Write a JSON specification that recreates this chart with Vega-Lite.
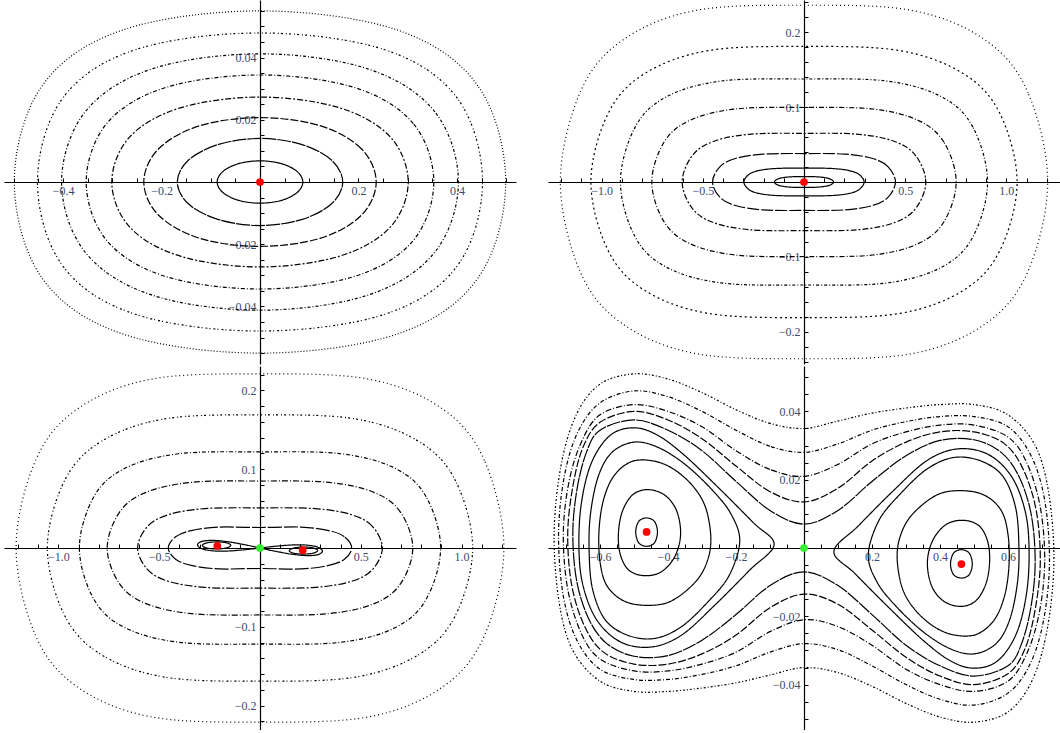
{
"$schema": "https://vega.github.io/schema/vega-lite/v6.json",
"padding": {"left": 4, "top": 0, "right": 0, "bottom": 0},
"config": {"view": {"stroke": null}, "axis": {"grid": false, "title": null, "domainColor": "black", "domainWidth": 1.2, "tickColor": "black", "tickWidth": 1, "labelFont": "Liberation Serif", "labelFontSize": 12, "labelColor": "#3c4a6b", "labelFlush": false, "labelOverlap": false}},
"spacing": 2,
"resolve": {"scale": {"strokeDash": "independent"}},
"vconcat": [
{"hconcat": [
{"width": 512, "height": 364,
"data": {"values": [
{"c":1,"i":0,"x":0.087,"y":0},{"c":1,"i":1,"x":0.0753,"y":0.0034},{"c":1,"i":2,"x":0.0435,"y":0.0059},{"c":1,"i":3,"x":0,"y":0.0068},{"c":1,"i":4,"x":-0.0435,"y":0.0059},{"c":1,"i":5,"x":-0.0753,"y":0.0034},{"c":1,"i":6,"x":-0.087,"y":0},{"c":1,"i":7,"x":-0.0753,"y":-0.0034},{"c":1,"i":8,"x":-0.0435,"y":-0.0059},{"c":1,"i":9,"x":0,"y":-0.0068},{"c":1,"i":10,"x":0.0435,"y":-0.0059},{"c":1,"i":11,"x":0.0753,"y":-0.0034},
{"c":2,"i":0,"x":0.168,"y":0},{"c":2,"i":1,"x":0.1455,"y":0.007},{"c":2,"i":2,"x":0.084,"y":0.0121},{"c":2,"i":3,"x":0,"y":0.014},{"c":2,"i":4,"x":-0.084,"y":0.0121},{"c":2,"i":5,"x":-0.1455,"y":0.007},{"c":2,"i":6,"x":-0.168,"y":0},{"c":2,"i":7,"x":-0.1455,"y":-0.007},{"c":2,"i":8,"x":-0.084,"y":-0.0121},{"c":2,"i":9,"x":0,"y":-0.014},{"c":2,"i":10,"x":0.084,"y":-0.0121},{"c":2,"i":11,"x":0.1455,"y":-0.007},
{"c":3,"i":0,"x":0.236,"y":0},{"c":3,"i":1,"x":0.2058,"y":0.0107},{"c":3,"i":2,"x":0.122,"y":0.0181},{"c":3,"i":3,"x":0,"y":0.0207},{"c":3,"i":4,"x":-0.122,"y":0.0181},{"c":3,"i":5,"x":-0.2058,"y":0.0107},{"c":3,"i":6,"x":-0.236,"y":0},{"c":3,"i":7,"x":-0.2058,"y":-0.0107},{"c":3,"i":8,"x":-0.122,"y":-0.0181},{"c":3,"i":9,"x":0,"y":-0.0207},{"c":3,"i":10,"x":0.122,"y":-0.0181},{"c":3,"i":11,"x":0.2058,"y":-0.0107},
{"c":4,"i":0,"x":0.301,"y":0},{"c":4,"i":1,"x":0.264,"y":0.0146},{"c":4,"i":2,"x":0.1604,"y":0.0239},{"c":4,"i":3,"x":0,"y":0.0273},{"c":4,"i":4,"x":-0.1604,"y":0.0239},{"c":4,"i":5,"x":-0.264,"y":0.0146},{"c":4,"i":6,"x":-0.301,"y":0},{"c":4,"i":7,"x":-0.264,"y":-0.0146},{"c":4,"i":8,"x":-0.1604,"y":-0.0239},{"c":4,"i":9,"x":0,"y":-0.0273},{"c":4,"i":10,"x":0.1604,"y":-0.0239},{"c":4,"i":11,"x":0.264,"y":-0.0146},
{"c":5,"i":0,"x":0.353,"y":0},{"c":5,"i":1,"x":0.3113,"y":0.0188},{"c":5,"i":2,"x":0.1931,"y":0.0303},{"c":5,"i":3,"x":0,"y":0.0344},{"c":5,"i":4,"x":-0.1931,"y":0.0303},{"c":5,"i":5,"x":-0.3113,"y":0.0188},{"c":5,"i":6,"x":-0.353,"y":0},{"c":5,"i":7,"x":-0.3113,"y":-0.0188},{"c":5,"i":8,"x":-0.1931,"y":-0.0303},{"c":5,"i":9,"x":0,"y":-0.0344},{"c":5,"i":10,"x":0.1931,"y":-0.0303},{"c":5,"i":11,"x":0.3113,"y":-0.0188},
{"c":6,"i":0,"x":0.403,"y":0},{"c":6,"i":1,"x":0.3554,"y":0.0225},{"c":6,"i":2,"x":0.2204,"y":0.0363},{"c":6,"i":3,"x":0,"y":0.0412},{"c":6,"i":4,"x":-0.2204,"y":0.0363},{"c":6,"i":5,"x":-0.3554,"y":0.0225},{"c":6,"i":6,"x":-0.403,"y":0},{"c":6,"i":7,"x":-0.3554,"y":-0.0225},{"c":6,"i":8,"x":-0.2204,"y":-0.0363},{"c":6,"i":9,"x":0,"y":-0.0412},{"c":6,"i":10,"x":0.2204,"y":-0.0363},{"c":6,"i":11,"x":0.3554,"y":-0.0225},
{"c":7,"i":0,"x":0.452,"y":0},{"c":7,"i":1,"x":0.4009,"y":0.0269},{"c":7,"i":2,"x":0.2536,"y":0.0425},{"c":7,"i":3,"x":0,"y":0.0479},{"c":7,"i":4,"x":-0.2536,"y":0.0425},{"c":7,"i":5,"x":-0.4009,"y":0.0269},{"c":7,"i":6,"x":-0.452,"y":0},{"c":7,"i":7,"x":-0.4009,"y":-0.0269},{"c":7,"i":8,"x":-0.2536,"y":-0.0425},{"c":7,"i":9,"x":0,"y":-0.0479},{"c":7,"i":10,"x":0.2536,"y":-0.0425},{"c":7,"i":11,"x":0.4009,"y":-0.0269},
{"c":8,"i":0,"x":0.499,"y":0},{"c":8,"i":1,"x":0.4426,"y":0.0309},{"c":8,"i":2,"x":0.2799,"y":0.0488},{"c":8,"i":3,"x":0,"y":0.055},{"c":8,"i":4,"x":-0.2799,"y":0.0488},{"c":8,"i":5,"x":-0.4426,"y":0.0309},{"c":8,"i":6,"x":-0.499,"y":0},{"c":8,"i":7,"x":-0.4426,"y":-0.0309},{"c":8,"i":8,"x":-0.2799,"y":-0.0488},{"c":8,"i":9,"x":0,"y":-0.055},{"c":8,"i":10,"x":0.2799,"y":-0.0488},{"c":8,"i":11,"x":0.4426,"y":-0.0309}
]},
"layer": [
{"mark": {"type": "line", "interpolate": "cardinal-closed", "strokeWidth": 1.2, "color": "black"},
 "encoding": {
  "x": {"field": "x", "type": "quantitative", "scale": {"domain": [-0.52, 0.52], "nice": false, "zero": false}, "axis": {"orient": "bottom", "offset": -182, "values": [-0.4, -0.2, 0.2, 0.4], "format": ".1f", "ticks": false, "labelPadding": 3}},
  "y": {"field": "y", "type": "quantitative", "scale": {"domain": [-0.0585, 0.0585], "nice": false, "zero": false}, "axis": {"orient": "left", "offset": -256, "values": [-0.04, -0.02, 0.02, 0.04], "format": ".2f", "ticks": false, "labelPadding": 4}},
  "order": {"field": "i", "type": "quantitative"},
  "strokeDash": {"field": "c", "type": "ordinal", "scale": {"domain": [1,2,3,4,5,6,7,8], "range": [[1,0],[14,1],[8,2],[6,2,2,2],[4,2,1,2],[3,2,1,2],[2,2,1,3],[1,2]]}, "legend": null}
 }},
{"data": {"values": [{"x": 0, "y": 0, "k": "center"}]},
 "mark": {"type": "point", "filled": true, "size": 60, "opacity": 1},
 "encoding": {
  "x": {"field": "x", "type": "quantitative", "axis": {"orient": "top", "offset": -182, "values": [-0.5,-0.45,-0.4,-0.35,-0.3,-0.25,-0.2,-0.15,-0.1,-0.05,0.05,0.1,0.15,0.2,0.25,0.3,0.35,0.4,0.45,0.5], "labels": false, "domain": false, "tickSize": 4}},
  "y": {"field": "y", "type": "quantitative", "axis": {"orient": "right", "offset": -256, "values": [-0.055,-0.05,-0.045,-0.04,-0.035,-0.03,-0.025,-0.02,-0.015,-0.01,-0.005,0.005,0.01,0.015,0.02,0.025,0.03,0.035,0.04,0.045,0.05,0.055], "labels": false, "domain": false, "tickSize": 4}},
  "color": {"field": "k", "type": "nominal", "scale": {"domain": ["center", "saddle"], "range": ["#ff0000", "#33ee33"]}, "legend": null}
 }}
],
"resolve": {"axis": {"x": "independent", "y": "independent"}}
},
{"width": 512, "height": 364,
"data": {"values": [
{"c":1,"i":0,"x":0.146,"y":0},{"c":1,"i":1,"x":0.1343,"y":0.0034},{"c":1,"i":2,"x":0.1095,"y":0.0055},{"c":1,"i":3,"x":0.0657,"y":0.0069},{"c":1,"i":4,"x":0,"y":0.0072},{"c":1,"i":5,"x":-0.0657,"y":0.0069},{"c":1,"i":6,"x":-0.1095,"y":0.0055},{"c":1,"i":7,"x":-0.1343,"y":0.0034},{"c":1,"i":8,"x":-0.146,"y":0},{"c":1,"i":9,"x":-0.1343,"y":-0.0034},{"c":1,"i":10,"x":-0.1095,"y":-0.0055},{"c":1,"i":11,"x":-0.0657,"y":-0.0069},{"c":1,"i":12,"x":0,"y":-0.0072},{"c":1,"i":13,"x":0.0657,"y":-0.0069},{"c":1,"i":14,"x":0.1095,"y":-0.0055},{"c":1,"i":15,"x":0.1343,"y":-0.0034},
{"c":2,"i":0,"x":0.297,"y":0},{"c":2,"i":1,"x":0.2732,"y":0.0099},{"c":2,"i":2,"x":0.2228,"y":0.0153},{"c":2,"i":3,"x":0.1337,"y":0.0181},{"c":2,"i":4,"x":0,"y":0.0185},{"c":2,"i":5,"x":-0.1337,"y":0.0181},{"c":2,"i":6,"x":-0.2228,"y":0.0153},{"c":2,"i":7,"x":-0.2732,"y":0.0099},{"c":2,"i":8,"x":-0.297,"y":0},{"c":2,"i":9,"x":-0.2732,"y":-0.0099},{"c":2,"i":10,"x":-0.2228,"y":-0.0153},{"c":2,"i":11,"x":-0.1337,"y":-0.0181},{"c":2,"i":12,"x":0,"y":-0.0185},{"c":2,"i":13,"x":0.1337,"y":-0.0181},{"c":2,"i":14,"x":0.2228,"y":-0.0153},{"c":2,"i":15,"x":0.2732,"y":-0.0099},
{"c":3,"i":0,"x":0.452,"y":0},{"c":3,"i":1,"x":0.4158,"y":0.0203},{"c":3,"i":2,"x":0.339,"y":0.0314},{"c":3,"i":3,"x":0.2034,"y":0.0372},{"c":3,"i":4,"x":0,"y":0.038},{"c":3,"i":5,"x":-0.2034,"y":0.0372},{"c":3,"i":6,"x":-0.339,"y":0.0314},{"c":3,"i":7,"x":-0.4158,"y":0.0203},{"c":3,"i":8,"x":-0.452,"y":0},{"c":3,"i":9,"x":-0.4158,"y":-0.0203},{"c":3,"i":10,"x":-0.339,"y":-0.0314},{"c":3,"i":11,"x":-0.2034,"y":-0.0372},{"c":3,"i":12,"x":0,"y":-0.038},{"c":3,"i":13,"x":0.2034,"y":-0.0372},{"c":3,"i":14,"x":0.339,"y":-0.0314},{"c":3,"i":15,"x":0.4158,"y":-0.0203},
{"c":4,"i":0,"x":0.602,"y":0},{"c":4,"i":1,"x":0.5538,"y":0.0346},{"c":4,"i":2,"x":0.4515,"y":0.0538},{"c":4,"i":3,"x":0.2709,"y":0.0637},{"c":4,"i":4,"x":0,"y":0.065},{"c":4,"i":5,"x":-0.2709,"y":0.0637},{"c":4,"i":6,"x":-0.4515,"y":0.0538},{"c":4,"i":7,"x":-0.5538,"y":0.0346},{"c":4,"i":8,"x":-0.602,"y":0},{"c":4,"i":9,"x":-0.5538,"y":-0.0346},{"c":4,"i":10,"x":-0.4515,"y":-0.0538},{"c":4,"i":11,"x":-0.2709,"y":-0.0637},{"c":4,"i":12,"x":0,"y":-0.065},{"c":4,"i":13,"x":0.2709,"y":-0.0637},{"c":4,"i":14,"x":0.4515,"y":-0.0538},{"c":4,"i":15,"x":0.5538,"y":-0.0346},
{"c":5,"i":0,"x":0.752,"y":0},{"c":5,"i":1,"x":0.6918,"y":0.053},{"c":5,"i":2,"x":0.564,"y":0.0823},{"c":5,"i":3,"x":0.3384,"y":0.0975},{"c":5,"i":4,"x":0,"y":0.0995},{"c":5,"i":5,"x":-0.3384,"y":0.0975},{"c":5,"i":6,"x":-0.564,"y":0.0823},{"c":5,"i":7,"x":-0.6918,"y":0.053},{"c":5,"i":8,"x":-0.752,"y":0},{"c":5,"i":9,"x":-0.6918,"y":-0.053},{"c":5,"i":10,"x":-0.564,"y":-0.0823},{"c":5,"i":11,"x":-0.3384,"y":-0.0975},{"c":5,"i":12,"x":0,"y":-0.0995},{"c":5,"i":13,"x":0.3384,"y":-0.0975},{"c":5,"i":14,"x":0.564,"y":-0.0823},{"c":5,"i":15,"x":0.6918,"y":-0.053},
{"c":6,"i":0,"x":0.907,"y":0},{"c":6,"i":1,"x":0.8344,"y":0.0733},{"c":6,"i":2,"x":0.6803,"y":0.1137},{"c":6,"i":3,"x":0.4082,"y":0.1348},{"c":6,"i":4,"x":0,"y":0.1375},{"c":6,"i":5,"x":-0.4082,"y":0.1348},{"c":6,"i":6,"x":-0.6803,"y":0.1137},{"c":6,"i":7,"x":-0.8344,"y":0.0733},{"c":6,"i":8,"x":-0.907,"y":0},{"c":6,"i":9,"x":-0.8344,"y":-0.0733},{"c":6,"i":10,"x":-0.6803,"y":-0.1137},{"c":6,"i":11,"x":-0.4082,"y":-0.1348},{"c":6,"i":12,"x":0,"y":-0.1375},{"c":6,"i":13,"x":0.4082,"y":-0.1348},{"c":6,"i":14,"x":0.6803,"y":-0.1137},{"c":6,"i":15,"x":0.8344,"y":-0.0733},
{"c":7,"i":0,"x":1.053,"y":0},{"c":7,"i":1,"x":0.9688,"y":0.091},{"c":7,"i":2,"x":0.7898,"y":0.1443},{"c":7,"i":3,"x":0.4739,"y":0.1754},{"c":7,"i":4,"x":0,"y":0.181},{"c":7,"i":5,"x":-0.4739,"y":0.1754},{"c":7,"i":6,"x":-0.7898,"y":0.1443},{"c":7,"i":7,"x":-0.9688,"y":0.091},{"c":7,"i":8,"x":-1.053,"y":0},{"c":7,"i":9,"x":-0.9688,"y":-0.091},{"c":7,"i":10,"x":-0.7898,"y":-0.1443},{"c":7,"i":11,"x":-0.4739,"y":-0.1754},{"c":7,"i":12,"x":0,"y":-0.181},{"c":7,"i":13,"x":0.4739,"y":-0.1754},{"c":7,"i":14,"x":0.7898,"y":-0.1443},{"c":7,"i":15,"x":0.9688,"y":-0.091},
{"c":8,"i":0,"x":1.204,"y":0},{"c":8,"i":1,"x":1.1077,"y":0.1187},{"c":8,"i":2,"x":0.903,"y":0.1881},{"c":8,"i":3,"x":0.5418,"y":0.2287},{"c":8,"i":4,"x":0,"y":0.236},{"c":8,"i":5,"x":-0.5418,"y":0.2287},{"c":8,"i":6,"x":-0.903,"y":0.1881},{"c":8,"i":7,"x":-1.1077,"y":0.1187},{"c":8,"i":8,"x":-1.204,"y":0},{"c":8,"i":9,"x":-1.1077,"y":-0.1187},{"c":8,"i":10,"x":-0.903,"y":-0.1881},{"c":8,"i":11,"x":-0.5418,"y":-0.2287},{"c":8,"i":12,"x":0,"y":-0.236},{"c":8,"i":13,"x":0.5418,"y":-0.2287},{"c":8,"i":14,"x":0.903,"y":-0.1881},{"c":8,"i":15,"x":1.1077,"y":-0.1187}
]},
"layer": [
{"mark": {"type": "line", "interpolate": "cardinal-closed", "strokeWidth": 1.2, "color": "black"},
 "encoding": {
  "x": {"field": "x", "type": "quantitative", "scale": {"domain": [-1.265, 1.265], "nice": false, "zero": false}, "axis": {"orient": "bottom", "offset": -182, "values": [-1, -0.5, 0.5, 1], "format": ".1f", "ticks": false, "labelPadding": 3}},
  "y": {"field": "y", "type": "quantitative", "scale": {"domain": [-0.243, 0.243], "nice": false, "zero": false}, "axis": {"orient": "left", "offset": -256, "values": [-0.2, -0.1, 0.1, 0.2], "format": ".1f", "ticks": false, "labelPadding": 4}},
  "order": {"field": "i", "type": "quantitative"},
  "strokeDash": {"field": "c", "type": "ordinal", "scale": {"domain": [1,2,3,4,5,6,7,8], "range": [[1,0],[1,0],[12,2],[6,2,2,2],[5,2,1,2],[3,2,1,2],[2,3],[1,3]]}, "legend": null}
 }},
{"data": {"values": [{"x": 0, "y": 0, "k": "center"}]},
 "mark": {"type": "point", "filled": true, "size": 60, "opacity": 1},
 "encoding": {
  "x": {"field": "x", "type": "quantitative", "axis": {"orient": "top", "offset": -182, "values": [-1.2,-1.1,-1,-0.9,-0.8,-0.7,-0.6,-0.5,-0.4,-0.3,-0.2,-0.1,0.1,0.2,0.3,0.4,0.5,0.6,0.7,0.8,0.9,1,1.1,1.2], "labels": false, "domain": false, "tickSize": 4}},
  "y": {"field": "y", "type": "quantitative", "axis": {"orient": "right", "offset": -256, "values": [-0.24,-0.22,-0.2,-0.18,-0.16,-0.14,-0.12,-0.1,-0.08,-0.06,-0.04,-0.02,0.02,0.04,0.06,0.08,0.1,0.12,0.14,0.16,0.18,0.2,0.22,0.24], "labels": false, "domain": false, "tickSize": 4}},
  "color": {"field": "k", "type": "nominal", "scale": {"domain": ["center", "saddle"], "range": ["#ff0000", "#33ee33"]}, "legend": null}
 }}
],
"resolve": {"axis": {"x": "independent", "y": "independent"}}
}
], "spacing": 32, "resolve": {"scale": {"strokeDash": "independent"}}},
{"hconcat": [
{"width": 512, "height": 364,
"data": {"values": [
{"c":1,"i":0,"x":0,"y":0},{"c":1,"i":1,"x":-0.0465,"y":0.0026},{"c":1,"i":2,"x":-0.093,"y":0.005},{"c":1,"i":3,"x":-0.155,"y":0.0078},{"c":1,"i":4,"x":-0.217,"y":0.0095},{"c":1,"i":5,"x":-0.2635,"y":0.0094},{"c":1,"i":6,"x":-0.2945,"y":0.0078},{"c":1,"i":7,"x":-0.31,"y":0.004},{"c":1,"i":8,"x":-0.2945,"y":-0.0002},{"c":1,"i":9,"x":-0.2635,"y":-0.0026},{"c":1,"i":10,"x":-0.217,"y":-0.0039},{"c":1,"i":11,"x":-0.155,"y":-0.0038},{"c":1,"i":12,"x":-0.093,"y":-0.0026},{"c":1,"i":13,"x":-0.0465,"y":-0.0014},{"c":1,"i":14,"x":0,"y":0},{"c":1,"i":15,"x":0.0465,"y":0.0014},{"c":1,"i":16,"x":0.093,"y":0.0026},{"c":1,"i":17,"x":0.155,"y":0.0038},{"c":1,"i":18,"x":0.217,"y":0.0039},{"c":1,"i":19,"x":0.2635,"y":0.0026},{"c":1,"i":20,"x":0.2945,"y":0.0002},{"c":1,"i":21,"x":0.31,"y":-0.004},{"c":1,"i":22,"x":0.2945,"y":-0.0078},{"c":1,"i":23,"x":0.2635,"y":-0.0094},{"c":1,"i":24,"x":0.217,"y":-0.0095},{"c":1,"i":25,"x":0.155,"y":-0.0078},{"c":1,"i":26,"x":0.093,"y":-0.005},{"c":1,"i":27,"x":0.0465,"y":-0.0026},
{"c":2,"i":0,"x":-0.145,"y":0.0035},{"c":2,"i":1,"x":-0.165,"y":0.0065},{"c":2,"i":2,"x":-0.21,"y":0.0077},{"c":2,"i":3,"x":-0.26,"y":0.0068},{"c":2,"i":4,"x":-0.286,"y":0.0035},{"c":2,"i":5,"x":-0.265,"y":0},{"c":2,"i":6,"x":-0.215,"y":-0.0013},{"c":2,"i":7,"x":-0.165,"y":0.0002},
{"c":3,"i":0,"x":0.145,"y":-0.0035},{"c":3,"i":1,"x":0.165,"y":-0.0065},{"c":3,"i":2,"x":0.21,"y":-0.0077},{"c":3,"i":3,"x":0.26,"y":-0.0068},{"c":3,"i":4,"x":0.286,"y":-0.0035},{"c":3,"i":5,"x":0.265,"y":0},{"c":3,"i":6,"x":0.215,"y":0.0013},{"c":3,"i":7,"x":0.165,"y":-0.0002},
{"c":4,"i":0,"x":0.455,"y":0},{"c":4,"i":1,"x":0.4186,"y":0.0143},{"c":4,"i":2,"x":0.3413,"y":0.0221},{"c":4,"i":3,"x":0.2048,"y":0.0265},{"c":4,"i":4,"x":0,"y":0.026},{"c":4,"i":5,"x":-0.2048,"y":0.0265},{"c":4,"i":6,"x":-0.3413,"y":0.0221},{"c":4,"i":7,"x":-0.4186,"y":0.0143},{"c":4,"i":8,"x":-0.455,"y":0},{"c":4,"i":9,"x":-0.4186,"y":-0.0143},{"c":4,"i":10,"x":-0.3413,"y":-0.0221},{"c":4,"i":11,"x":-0.2048,"y":-0.0265},{"c":4,"i":12,"x":0,"y":-0.026},{"c":4,"i":13,"x":0.2048,"y":-0.0265},{"c":4,"i":14,"x":0.3413,"y":-0.0221},{"c":4,"i":15,"x":0.4186,"y":-0.0143},
{"c":5,"i":0,"x":0.607,"y":0},{"c":5,"i":1,"x":0.5584,"y":0.0272},{"c":5,"i":2,"x":0.4553,"y":0.0422},{"c":5,"i":3,"x":0.2732,"y":0.05},{"c":5,"i":4,"x":0,"y":0.051},{"c":5,"i":5,"x":-0.2732,"y":0.05},{"c":5,"i":6,"x":-0.4553,"y":0.0422},{"c":5,"i":7,"x":-0.5584,"y":0.0272},{"c":5,"i":8,"x":-0.607,"y":0},{"c":5,"i":9,"x":-0.5584,"y":-0.0272},{"c":5,"i":10,"x":-0.4553,"y":-0.0422},{"c":5,"i":11,"x":-0.2732,"y":-0.05},{"c":5,"i":12,"x":0,"y":-0.051},{"c":5,"i":13,"x":0.2732,"y":-0.05},{"c":5,"i":14,"x":0.4553,"y":-0.0422},{"c":5,"i":15,"x":0.5584,"y":-0.0272},
{"c":6,"i":0,"x":0.758,"y":0},{"c":6,"i":1,"x":0.6974,"y":0.0453},{"c":6,"i":2,"x":0.5685,"y":0.0703},{"c":6,"i":3,"x":0.3411,"y":0.0833},{"c":6,"i":4,"x":0,"y":0.085},{"c":6,"i":5,"x":-0.3411,"y":0.0833},{"c":6,"i":6,"x":-0.5685,"y":0.0703},{"c":6,"i":7,"x":-0.6974,"y":0.0453},{"c":6,"i":8,"x":-0.758,"y":0},{"c":6,"i":9,"x":-0.6974,"y":-0.0453},{"c":6,"i":10,"x":-0.5685,"y":-0.0703},{"c":6,"i":11,"x":-0.3411,"y":-0.0833},{"c":6,"i":12,"x":0,"y":-0.085},{"c":6,"i":13,"x":0.3411,"y":-0.0833},{"c":6,"i":14,"x":0.5685,"y":-0.0703},{"c":6,"i":15,"x":0.6974,"y":-0.0453},
{"c":7,"i":0,"x":0.896,"y":0},{"c":7,"i":1,"x":0.8243,"y":0.065},{"c":7,"i":2,"x":0.672,"y":0.1009},{"c":7,"i":3,"x":0.4032,"y":0.1196},{"c":7,"i":4,"x":0,"y":0.122},{"c":7,"i":5,"x":-0.4032,"y":0.1196},{"c":7,"i":6,"x":-0.672,"y":0.1009},{"c":7,"i":7,"x":-0.8243,"y":0.065},{"c":7,"i":8,"x":-0.896,"y":0},{"c":7,"i":9,"x":-0.8243,"y":-0.065},{"c":7,"i":10,"x":-0.672,"y":-0.1009},{"c":7,"i":11,"x":-0.4032,"y":-0.1196},{"c":7,"i":12,"x":0,"y":-0.122},{"c":7,"i":13,"x":0.4032,"y":-0.1196},{"c":7,"i":14,"x":0.672,"y":-0.1009},{"c":7,"i":15,"x":0.8243,"y":-0.065},
{"c":8,"i":0,"x":1.055,"y":0},{"c":8,"i":1,"x":0.9706,"y":0.085},{"c":8,"i":2,"x":0.7913,"y":0.1347},{"c":8,"i":3,"x":0.4748,"y":0.1638},{"c":8,"i":4,"x":0,"y":0.169},{"c":8,"i":5,"x":-0.4748,"y":0.1638},{"c":8,"i":6,"x":-0.7913,"y":0.1347},{"c":8,"i":7,"x":-0.9706,"y":0.085},{"c":8,"i":8,"x":-1.055,"y":0},{"c":8,"i":9,"x":-0.9706,"y":-0.085},{"c":8,"i":10,"x":-0.7913,"y":-0.1347},{"c":8,"i":11,"x":-0.4748,"y":-0.1638},{"c":8,"i":12,"x":0,"y":-0.169},{"c":8,"i":13,"x":0.4748,"y":-0.1638},{"c":8,"i":14,"x":0.7913,"y":-0.1347},{"c":8,"i":15,"x":0.9706,"y":-0.085},
{"c":9,"i":0,"x":1.21,"y":0},{"c":9,"i":1,"x":1.1132,"y":0.1112},{"c":9,"i":2,"x":0.9075,"y":0.1761},{"c":9,"i":3,"x":0.5445,"y":0.2141},{"c":9,"i":4,"x":0,"y":0.221},{"c":9,"i":5,"x":-0.5445,"y":0.2141},{"c":9,"i":6,"x":-0.9075,"y":0.1761},{"c":9,"i":7,"x":-1.1132,"y":0.1112},{"c":9,"i":8,"x":-1.21,"y":0},{"c":9,"i":9,"x":-1.1132,"y":-0.1112},{"c":9,"i":10,"x":-0.9075,"y":-0.1761},{"c":9,"i":11,"x":-0.5445,"y":-0.2141},{"c":9,"i":12,"x":0,"y":-0.221},{"c":9,"i":13,"x":0.5445,"y":-0.2141},{"c":9,"i":14,"x":0.9075,"y":-0.1761},{"c":9,"i":15,"x":1.1132,"y":-0.1112}
]},
"layer": [
{"mark": {"type": "line", "interpolate": "cardinal-closed", "strokeWidth": 1.2, "color": "black"},
 "encoding": {
  "x": {"field": "x", "type": "quantitative", "scale": {"domain": [-1.27, 1.27], "nice": false, "zero": false}, "axis": {"orient": "bottom", "offset": -182, "values": [-1, -0.5, 0.5, 1], "format": ".1f", "ticks": false, "labelPadding": 3}},
  "y": {"field": "y", "type": "quantitative", "scale": {"domain": [-0.231, 0.231], "nice": false, "zero": false}, "axis": {"orient": "left", "offset": -256, "values": [-0.2, -0.1, 0.1, 0.2], "format": ".1f", "ticks": false, "labelPadding": 4}},
  "order": {"field": "i", "type": "quantitative"},
  "strokeDash": {"field": "c", "type": "ordinal", "scale": {"domain": [1,2,3,4,5,6,7,8,9], "range": [[1,0],[1,0],[1,0],[14,2],[8,2,2,2],[6,2,1,2],[4,2,1,2],[2,2,1,3],[1,3]]}, "legend": null}
 }},
{"data": {"values": [{"x": -0.212, "y": 0.0028, "k": "center"}, {"x": 0.212, "y": -0.0028, "k": "center"}, {"x": 0, "y": 0, "k": "saddle"}]},
 "mark": {"type": "point", "filled": true, "size": 60, "opacity": 1},
 "encoding": {
  "x": {"field": "x", "type": "quantitative", "axis": {"orient": "top", "offset": -182, "values": [-1.2,-1.1,-1,-0.9,-0.8,-0.7,-0.6,-0.5,-0.4,-0.3,-0.2,-0.1,0.1,0.2,0.3,0.4,0.5,0.6,0.7,0.8,0.9,1,1.1,1.2], "labels": false, "domain": false, "tickSize": 4}},
  "y": {"field": "y", "type": "quantitative", "axis": {"orient": "right", "offset": -256, "values": [-0.22,-0.2,-0.18,-0.16,-0.14,-0.12,-0.1,-0.08,-0.06,-0.04,-0.02,0.02,0.04,0.06,0.08,0.1,0.12,0.14,0.16,0.18,0.2,0.22], "labels": false, "domain": false, "tickSize": 4}},
  "color": {"field": "k", "type": "nominal", "scale": {"domain": ["center", "saddle"], "range": ["#ff0000", "#33ee33"]}, "legend": null}
 }}
],
"resolve": {"axis": {"x": "independent", "y": "independent"}}
},
{"width": 512, "height": 364,
"data": {"values": [
{"c":15,"i":0,"x":0,"y":0.035},{"c":15,"i":1,"x":-0.1,"y":0.0365},{"c":15,"i":2,"x":-0.2,"y":0.0405},{"c":15,"i":3,"x":-0.3,"y":0.0455},{"c":15,"i":4,"x":-0.4,"y":0.0495},{"c":15,"i":5,"x":-0.5,"y":0.051},{"c":15,"i":6,"x":-0.6,"y":0.048},{"c":15,"i":7,"x":-0.67,"y":0.039},{"c":15,"i":8,"x":-0.715,"y":0.024},{"c":15,"i":9,"x":-0.735,"y":0.004},{"c":15,"i":10,"x":-0.72,"y":-0.016},{"c":15,"i":11,"x":-0.68,"y":-0.03},{"c":15,"i":12,"x":-0.6,"y":-0.039},{"c":15,"i":13,"x":-0.5,"y":-0.042},{"c":15,"i":14,"x":-0.4,"y":-0.042},{"c":15,"i":15,"x":-0.3,"y":-0.041},{"c":15,"i":16,"x":-0.2,"y":-0.0395},{"c":15,"i":17,"x":-0.1,"y":-0.0372},{"c":15,"i":18,"x":0,"y":-0.035},{"c":15,"i":19,"x":0.1,"y":-0.0365},{"c":15,"i":20,"x":0.2,"y":-0.0405},{"c":15,"i":21,"x":0.3,"y":-0.0455},{"c":15,"i":22,"x":0.4,"y":-0.0495},{"c":15,"i":23,"x":0.5,"y":-0.051},{"c":15,"i":24,"x":0.6,"y":-0.048},{"c":15,"i":25,"x":0.67,"y":-0.039},{"c":15,"i":26,"x":0.715,"y":-0.024},{"c":15,"i":27,"x":0.735,"y":-0.004},{"c":15,"i":28,"x":0.72,"y":0.016},{"c":15,"i":29,"x":0.68,"y":0.03},{"c":15,"i":30,"x":0.6,"y":0.039},{"c":15,"i":31,"x":0.5,"y":0.042},{"c":15,"i":32,"x":0.4,"y":0.042},{"c":15,"i":33,"x":0.3,"y":0.041},{"c":15,"i":34,"x":0.2,"y":0.0395},{"c":15,"i":35,"x":0.1,"y":0.0372},
{"c":14,"i":0,"x":0,"y":0.028},{"c":14,"i":1,"x":-0.1,"y":0.0298},{"c":14,"i":2,"x":-0.2,"y":0.0345},{"c":14,"i":3,"x":-0.3,"y":0.04},{"c":14,"i":4,"x":-0.4,"y":0.0443},{"c":14,"i":5,"x":-0.5,"y":0.046},{"c":14,"i":6,"x":-0.6,"y":0.0425},{"c":14,"i":7,"x":-0.665,"y":0.034},{"c":14,"i":8,"x":-0.705,"y":0.021},{"c":14,"i":9,"x":-0.722,"y":0.004},{"c":14,"i":10,"x":-0.708,"y":-0.014},{"c":14,"i":11,"x":-0.668,"y":-0.027},{"c":14,"i":12,"x":-0.6,"y":-0.0355},{"c":14,"i":13,"x":-0.5,"y":-0.0385},{"c":14,"i":14,"x":-0.4,"y":-0.0385},{"c":14,"i":15,"x":-0.3,"y":-0.037},{"c":14,"i":16,"x":-0.2,"y":-0.0345},{"c":14,"i":17,"x":-0.1,"y":-0.0305},{"c":14,"i":18,"x":0,"y":-0.028},{"c":14,"i":19,"x":0.1,"y":-0.0298},{"c":14,"i":20,"x":0.2,"y":-0.0345},{"c":14,"i":21,"x":0.3,"y":-0.04},{"c":14,"i":22,"x":0.4,"y":-0.0443},{"c":14,"i":23,"x":0.5,"y":-0.046},{"c":14,"i":24,"x":0.6,"y":-0.0425},{"c":14,"i":25,"x":0.665,"y":-0.034},{"c":14,"i":26,"x":0.705,"y":-0.021},{"c":14,"i":27,"x":0.722,"y":-0.004},{"c":14,"i":28,"x":0.708,"y":0.014},{"c":14,"i":29,"x":0.668,"y":0.027},{"c":14,"i":30,"x":0.6,"y":0.0355},{"c":14,"i":31,"x":0.5,"y":0.0385},{"c":14,"i":32,"x":0.4,"y":0.0385},{"c":14,"i":33,"x":0.3,"y":0.037},{"c":14,"i":34,"x":0.2,"y":0.0345},{"c":14,"i":35,"x":0.1,"y":0.0305},
{"c":13,"i":0,"x":0,"y":0.021},{"c":13,"i":1,"x":-0.1,"y":0.023},{"c":13,"i":2,"x":-0.2,"y":0.0285},{"c":13,"i":3,"x":-0.3,"y":0.0355},{"c":13,"i":4,"x":-0.4,"y":0.04},{"c":13,"i":5,"x":-0.5,"y":0.042},{"c":13,"i":6,"x":-0.6,"y":0.039},{"c":13,"i":7,"x":-0.655,"y":0.031},{"c":13,"i":8,"x":-0.692,"y":0.019},{"c":13,"i":9,"x":-0.708,"y":0.004},{"c":13,"i":10,"x":-0.695,"y":-0.012},{"c":13,"i":11,"x":-0.655,"y":-0.025},{"c":13,"i":12,"x":-0.6,"y":-0.0325},{"c":13,"i":13,"x":-0.5,"y":-0.036},{"c":13,"i":14,"x":-0.4,"y":-0.036},{"c":13,"i":15,"x":-0.3,"y":-0.034},{"c":13,"i":16,"x":-0.2,"y":-0.0305},{"c":13,"i":17,"x":-0.1,"y":-0.0245},{"c":13,"i":18,"x":0,"y":-0.021},{"c":13,"i":19,"x":0.1,"y":-0.023},{"c":13,"i":20,"x":0.2,"y":-0.0285},{"c":13,"i":21,"x":0.3,"y":-0.0355},{"c":13,"i":22,"x":0.4,"y":-0.04},{"c":13,"i":23,"x":0.5,"y":-0.042},{"c":13,"i":24,"x":0.6,"y":-0.039},{"c":13,"i":25,"x":0.655,"y":-0.031},{"c":13,"i":26,"x":0.692,"y":-0.019},{"c":13,"i":27,"x":0.708,"y":-0.004},{"c":13,"i":28,"x":0.695,"y":0.012},{"c":13,"i":29,"x":0.655,"y":0.025},{"c":13,"i":30,"x":0.6,"y":0.0325},{"c":13,"i":31,"x":0.5,"y":0.036},{"c":13,"i":32,"x":0.4,"y":0.036},{"c":13,"i":33,"x":0.3,"y":0.034},{"c":13,"i":34,"x":0.2,"y":0.0305},{"c":13,"i":35,"x":0.1,"y":0.0245},
{"c":12,"i":0,"x":0,"y":0.0135},{"c":12,"i":1,"x":-0.1,"y":0.0165},{"c":12,"i":2,"x":-0.2,"y":0.024},{"c":12,"i":3,"x":-0.3,"y":0.032},{"c":12,"i":4,"x":-0.4,"y":0.0375},{"c":12,"i":5,"x":-0.5,"y":0.04},{"c":12,"i":6,"x":-0.6,"y":0.0368},{"c":12,"i":7,"x":-0.65,"y":0.0295},{"c":12,"i":8,"x":-0.68,"y":0.018},{"c":12,"i":9,"x":-0.695,"y":0.004},{"c":12,"i":10,"x":-0.683,"y":-0.011},{"c":12,"i":11,"x":-0.645,"y":-0.023},{"c":12,"i":12,"x":-0.59,"y":-0.0305},{"c":12,"i":13,"x":-0.5,"y":-0.034},{"c":12,"i":14,"x":-0.4,"y":-0.034},{"c":12,"i":15,"x":-0.3,"y":-0.031},{"c":12,"i":16,"x":-0.2,"y":-0.0255},{"c":12,"i":17,"x":-0.1,"y":-0.0175},{"c":12,"i":18,"x":0,"y":-0.0135},{"c":12,"i":19,"x":0.1,"y":-0.0165},{"c":12,"i":20,"x":0.2,"y":-0.024},{"c":12,"i":21,"x":0.3,"y":-0.032},{"c":12,"i":22,"x":0.4,"y":-0.0375},{"c":12,"i":23,"x":0.5,"y":-0.04},{"c":12,"i":24,"x":0.6,"y":-0.0368},{"c":12,"i":25,"x":0.65,"y":-0.0295},{"c":12,"i":26,"x":0.68,"y":-0.018},{"c":12,"i":27,"x":0.695,"y":-0.004},{"c":12,"i":28,"x":0.683,"y":0.011},{"c":12,"i":29,"x":0.645,"y":0.023},{"c":12,"i":30,"x":0.59,"y":0.0305},{"c":12,"i":31,"x":0.5,"y":0.034},{"c":12,"i":32,"x":0.4,"y":0.034},{"c":12,"i":33,"x":0.3,"y":0.031},{"c":12,"i":34,"x":0.2,"y":0.0255},{"c":12,"i":35,"x":0.1,"y":0.0175},
{"c":11,"i":0,"x":0,"y":0.007},{"c":11,"i":1,"x":-0.1,"y":0.011},{"c":11,"i":2,"x":-0.2,"y":0.0195},{"c":11,"i":3,"x":-0.3,"y":0.0285},{"c":11,"i":4,"x":-0.4,"y":0.0345},{"c":11,"i":5,"x":-0.5,"y":0.0375},{"c":11,"i":6,"x":-0.6,"y":0.0345},{"c":11,"i":7,"x":-0.64,"y":0.028},{"c":11,"i":8,"x":-0.668,"y":0.017},{"c":11,"i":9,"x":-0.68,"y":0.004},{"c":11,"i":10,"x":-0.668,"y":-0.01},{"c":11,"i":11,"x":-0.632,"y":-0.021},{"c":11,"i":12,"x":-0.58,"y":-0.028},{"c":11,"i":13,"x":-0.5,"y":-0.0317},{"c":11,"i":14,"x":-0.4,"y":-0.0315},{"c":11,"i":15,"x":-0.3,"y":-0.027},{"c":11,"i":16,"x":-0.2,"y":-0.0195},{"c":11,"i":17,"x":-0.1,"y":-0.011},{"c":11,"i":18,"x":0,"y":-0.007},{"c":11,"i":19,"x":0.1,"y":-0.011},{"c":11,"i":20,"x":0.2,"y":-0.0195},{"c":11,"i":21,"x":0.3,"y":-0.0285},{"c":11,"i":22,"x":0.4,"y":-0.0345},{"c":11,"i":23,"x":0.5,"y":-0.0375},{"c":11,"i":24,"x":0.6,"y":-0.0345},{"c":11,"i":25,"x":0.64,"y":-0.028},{"c":11,"i":26,"x":0.668,"y":-0.017},{"c":11,"i":27,"x":0.68,"y":-0.004},{"c":11,"i":28,"x":0.668,"y":0.01},{"c":11,"i":29,"x":0.632,"y":0.021},{"c":11,"i":30,"x":0.58,"y":0.028},{"c":11,"i":31,"x":0.5,"y":0.0317},{"c":11,"i":32,"x":0.4,"y":0.0315},{"c":11,"i":33,"x":0.3,"y":0.027},{"c":11,"i":34,"x":0.2,"y":0.0195},{"c":11,"i":35,"x":0.1,"y":0.011},
{"c":5,"i":0,"x":-0.088,"y":0.001},{"c":5,"i":1,"x":-0.15,"y":0.0075},{"c":5,"i":2,"x":-0.25,"y":0.0175},{"c":5,"i":3,"x":-0.35,"y":0.027},{"c":5,"i":4,"x":-0.43,"y":0.033},{"c":5,"i":5,"x":-0.5,"y":0.0352},{"c":5,"i":6,"x":-0.57,"y":0.033},{"c":5,"i":7,"x":-0.625,"y":0.025},{"c":5,"i":8,"x":-0.655,"y":0.013},{"c":5,"i":9,"x":-0.662,"y":0},{"c":5,"i":10,"x":-0.65,"y":-0.011},{"c":5,"i":11,"x":-0.61,"y":-0.021},{"c":5,"i":12,"x":-0.54,"y":-0.0275},{"c":5,"i":13,"x":-0.45,"y":-0.029},{"c":5,"i":14,"x":-0.36,"y":-0.0255},{"c":5,"i":15,"x":-0.26,"y":-0.0165},{"c":5,"i":16,"x":-0.16,"y":-0.0065},
{"c":4,"i":0,"x":-0.189,"y":0.002},{"c":4,"i":1,"x":-0.215,"y":0.01},{"c":4,"i":2,"x":-0.27,"y":0.017},{"c":4,"i":3,"x":-0.35,"y":0.0245},{"c":4,"i":4,"x":-0.43,"y":0.0295},{"c":4,"i":5,"x":-0.5,"y":0.031},{"c":4,"i":6,"x":-0.565,"y":0.028},{"c":4,"i":7,"x":-0.605,"y":0.021},{"c":4,"i":8,"x":-0.628,"y":0.01},{"c":4,"i":9,"x":-0.632,"y":-0.001},{"c":4,"i":10,"x":-0.622,"y":-0.012},{"c":4,"i":11,"x":-0.585,"y":-0.021},{"c":4,"i":12,"x":-0.52,"y":-0.0255},{"c":4,"i":13,"x":-0.44,"y":-0.0265},{"c":4,"i":14,"x":-0.36,"y":-0.023},{"c":4,"i":15,"x":-0.28,"y":-0.0155},{"c":4,"i":16,"x":-0.22,"y":-0.008},
{"c":3,"i":0,"x":-0.274,"y":0.003},{"c":3,"i":1,"x":-0.29,"y":0.012},{"c":3,"i":2,"x":-0.33,"y":0.0185},{"c":3,"i":3,"x":-0.39,"y":0.0235},{"c":3,"i":4,"x":-0.45,"y":0.0256},{"c":3,"i":5,"x":-0.51,"y":0.0252},{"c":3,"i":6,"x":-0.56,"y":0.021},{"c":3,"i":7,"x":-0.59,"y":0.014},{"c":3,"i":8,"x":-0.603,"y":0.005},{"c":3,"i":9,"x":-0.6,"y":-0.004},{"c":3,"i":10,"x":-0.58,"y":-0.011},{"c":3,"i":11,"x":-0.53,"y":-0.0155},{"c":3,"i":12,"x":-0.46,"y":-0.0168},{"c":3,"i":13,"x":-0.39,"y":-0.0155},{"c":3,"i":14,"x":-0.32,"y":-0.01},{"c":3,"i":15,"x":-0.285,"y":-0.004},
{"c":2,"i":0,"x":-0.363,"y":0.004},{"c":2,"i":1,"x":-0.375,"y":0.011},{"c":2,"i":2,"x":-0.41,"y":0.0155},{"c":2,"i":3,"x":-0.46,"y":0.0171},{"c":2,"i":4,"x":-0.505,"y":0.0155},{"c":2,"i":5,"x":-0.535,"y":0.0105},{"c":2,"i":6,"x":-0.546,"y":0.004},{"c":2,"i":7,"x":-0.54,"y":-0.002},{"c":2,"i":8,"x":-0.515,"y":-0.0065},{"c":2,"i":9,"x":-0.47,"y":-0.0081},{"c":2,"i":10,"x":-0.42,"y":-0.007},{"c":2,"i":11,"x":-0.38,"y":-0.0025},
{"c":1,"i":0,"x":-0.431,"y":0.0047},{"c":1,"i":1,"x":-0.44,"y":0.0078},{"c":1,"i":2,"x":-0.463,"y":0.0088},{"c":1,"i":3,"x":-0.486,"y":0.0078},{"c":1,"i":4,"x":-0.495,"y":0.0047},{"c":1,"i":5,"x":-0.486,"y":0.0015},{"c":1,"i":6,"x":-0.463,"y":0.0005},{"c":1,"i":7,"x":-0.44,"y":0.0015},
{"c":10,"i":0,"x":0.088,"y":-0.001},{"c":10,"i":1,"x":0.15,"y":-0.0075},{"c":10,"i":2,"x":0.25,"y":-0.0175},{"c":10,"i":3,"x":0.35,"y":-0.027},{"c":10,"i":4,"x":0.43,"y":-0.033},{"c":10,"i":5,"x":0.5,"y":-0.0352},{"c":10,"i":6,"x":0.57,"y":-0.033},{"c":10,"i":7,"x":0.625,"y":-0.025},{"c":10,"i":8,"x":0.655,"y":-0.013},{"c":10,"i":9,"x":0.662,"y":0},{"c":10,"i":10,"x":0.65,"y":0.011},{"c":10,"i":11,"x":0.61,"y":0.021},{"c":10,"i":12,"x":0.54,"y":0.0275},{"c":10,"i":13,"x":0.45,"y":0.029},{"c":10,"i":14,"x":0.36,"y":0.0255},{"c":10,"i":15,"x":0.26,"y":0.0165},{"c":10,"i":16,"x":0.16,"y":0.0065},
{"c":9,"i":0,"x":0.189,"y":-0.002},{"c":9,"i":1,"x":0.215,"y":-0.01},{"c":9,"i":2,"x":0.27,"y":-0.017},{"c":9,"i":3,"x":0.35,"y":-0.0245},{"c":9,"i":4,"x":0.43,"y":-0.0295},{"c":9,"i":5,"x":0.5,"y":-0.031},{"c":9,"i":6,"x":0.565,"y":-0.028},{"c":9,"i":7,"x":0.605,"y":-0.021},{"c":9,"i":8,"x":0.628,"y":-0.01},{"c":9,"i":9,"x":0.632,"y":0.001},{"c":9,"i":10,"x":0.622,"y":0.012},{"c":9,"i":11,"x":0.585,"y":0.021},{"c":9,"i":12,"x":0.52,"y":0.0255},{"c":9,"i":13,"x":0.44,"y":0.0265},{"c":9,"i":14,"x":0.36,"y":0.023},{"c":9,"i":15,"x":0.28,"y":0.0155},{"c":9,"i":16,"x":0.22,"y":0.008},
{"c":8,"i":0,"x":0.274,"y":-0.003},{"c":8,"i":1,"x":0.29,"y":-0.012},{"c":8,"i":2,"x":0.33,"y":-0.0185},{"c":8,"i":3,"x":0.39,"y":-0.0235},{"c":8,"i":4,"x":0.45,"y":-0.0256},{"c":8,"i":5,"x":0.51,"y":-0.0252},{"c":8,"i":6,"x":0.56,"y":-0.021},{"c":8,"i":7,"x":0.59,"y":-0.014},{"c":8,"i":8,"x":0.603,"y":-0.005},{"c":8,"i":9,"x":0.6,"y":0.004},{"c":8,"i":10,"x":0.58,"y":0.011},{"c":8,"i":11,"x":0.53,"y":0.0155},{"c":8,"i":12,"x":0.46,"y":0.0168},{"c":8,"i":13,"x":0.39,"y":0.0155},{"c":8,"i":14,"x":0.32,"y":0.01},{"c":8,"i":15,"x":0.285,"y":0.004},
{"c":7,"i":0,"x":0.363,"y":-0.004},{"c":7,"i":1,"x":0.375,"y":-0.011},{"c":7,"i":2,"x":0.41,"y":-0.0155},{"c":7,"i":3,"x":0.46,"y":-0.0171},{"c":7,"i":4,"x":0.505,"y":-0.0155},{"c":7,"i":5,"x":0.535,"y":-0.0105},{"c":7,"i":6,"x":0.546,"y":-0.004},{"c":7,"i":7,"x":0.54,"y":0.002},{"c":7,"i":8,"x":0.515,"y":0.0065},{"c":7,"i":9,"x":0.47,"y":0.0081},{"c":7,"i":10,"x":0.42,"y":0.007},{"c":7,"i":11,"x":0.38,"y":0.0025},
{"c":6,"i":0,"x":0.431,"y":-0.0047},{"c":6,"i":1,"x":0.44,"y":-0.0078},{"c":6,"i":2,"x":0.463,"y":-0.0088},{"c":6,"i":3,"x":0.486,"y":-0.0078},{"c":6,"i":4,"x":0.495,"y":-0.0047},{"c":6,"i":5,"x":0.486,"y":-0.0015},{"c":6,"i":6,"x":0.463,"y":-0.0005},{"c":6,"i":7,"x":0.44,"y":-0.0015}
]},
"layer": [
{"mark": {"type": "line", "interpolate": "cardinal-closed", "strokeWidth": 1.2, "color": "black"},
 "encoding": {
  "x": {"field": "x", "type": "quantitative", "scale": {"domain": [-0.753, 0.753], "nice": false, "zero": false}, "axis": {"orient": "bottom", "offset": -182, "values": [-0.6, -0.4, -0.2, 0.2, 0.4, 0.6], "format": ".1f", "ticks": false, "labelPadding": 3}},
  "y": {"field": "y", "type": "quantitative", "scale": {"domain": [-0.0533, 0.0533], "nice": false, "zero": false}, "axis": {"orient": "left", "offset": -256, "values": [-0.04, -0.02, 0.02, 0.04], "format": ".2f", "ticks": false, "labelPadding": 4}},
  "order": {"field": "i", "type": "quantitative"},
  "strokeDash": {"field": "c", "type": "ordinal", "scale": {"domain": [1,2,3,4,5,6,7,8,9,10,11,12,13,14,15], "range": [[1,0],[1,0],[1,0],[1,0],[1,0],[1,0],[1,0],[1,0],[1,0],[1,0],[14,1],[8,2],[6,2,1,2],[4,2,1,2],[2,2,1,2]]}, "legend": null}
 }},
{"data": {"values": [{"x": -0.463, "y": 0.0047, "k": "center"}, {"x": 0.463, "y": -0.0047, "k": "center"}, {"x": 0, "y": 0, "k": "saddle"}]},
 "mark": {"type": "point", "filled": true, "size": 60, "opacity": 1},
 "encoding": {
  "x": {"field": "x", "type": "quantitative", "axis": {"orient": "top", "offset": -182, "values": [-0.7,-0.65,-0.6,-0.55,-0.5,-0.45,-0.4,-0.35,-0.3,-0.25,-0.2,-0.15,-0.1,-0.05,0.05,0.1,0.15,0.2,0.25,0.3,0.35,0.4,0.45,0.5,0.55,0.6,0.65,0.7], "labels": false, "domain": false, "tickSize": 4}},
  "y": {"field": "y", "type": "quantitative", "axis": {"orient": "right", "offset": -256, "values": [-0.05,-0.045,-0.04,-0.035,-0.03,-0.025,-0.02,-0.015,-0.01,-0.005,0.005,0.01,0.015,0.02,0.025,0.03,0.035,0.04,0.045,0.05], "labels": false, "domain": false, "tickSize": 4}},
  "color": {"field": "k", "type": "nominal", "scale": {"domain": ["center", "saddle"], "range": ["#ff0000", "#33ee33"]}, "legend": null}
 }}
],
"resolve": {"axis": {"x": "independent", "y": "independent"}}
}
], "spacing": 32, "resolve": {"scale": {"strokeDash": "independent"}}}
]
}
